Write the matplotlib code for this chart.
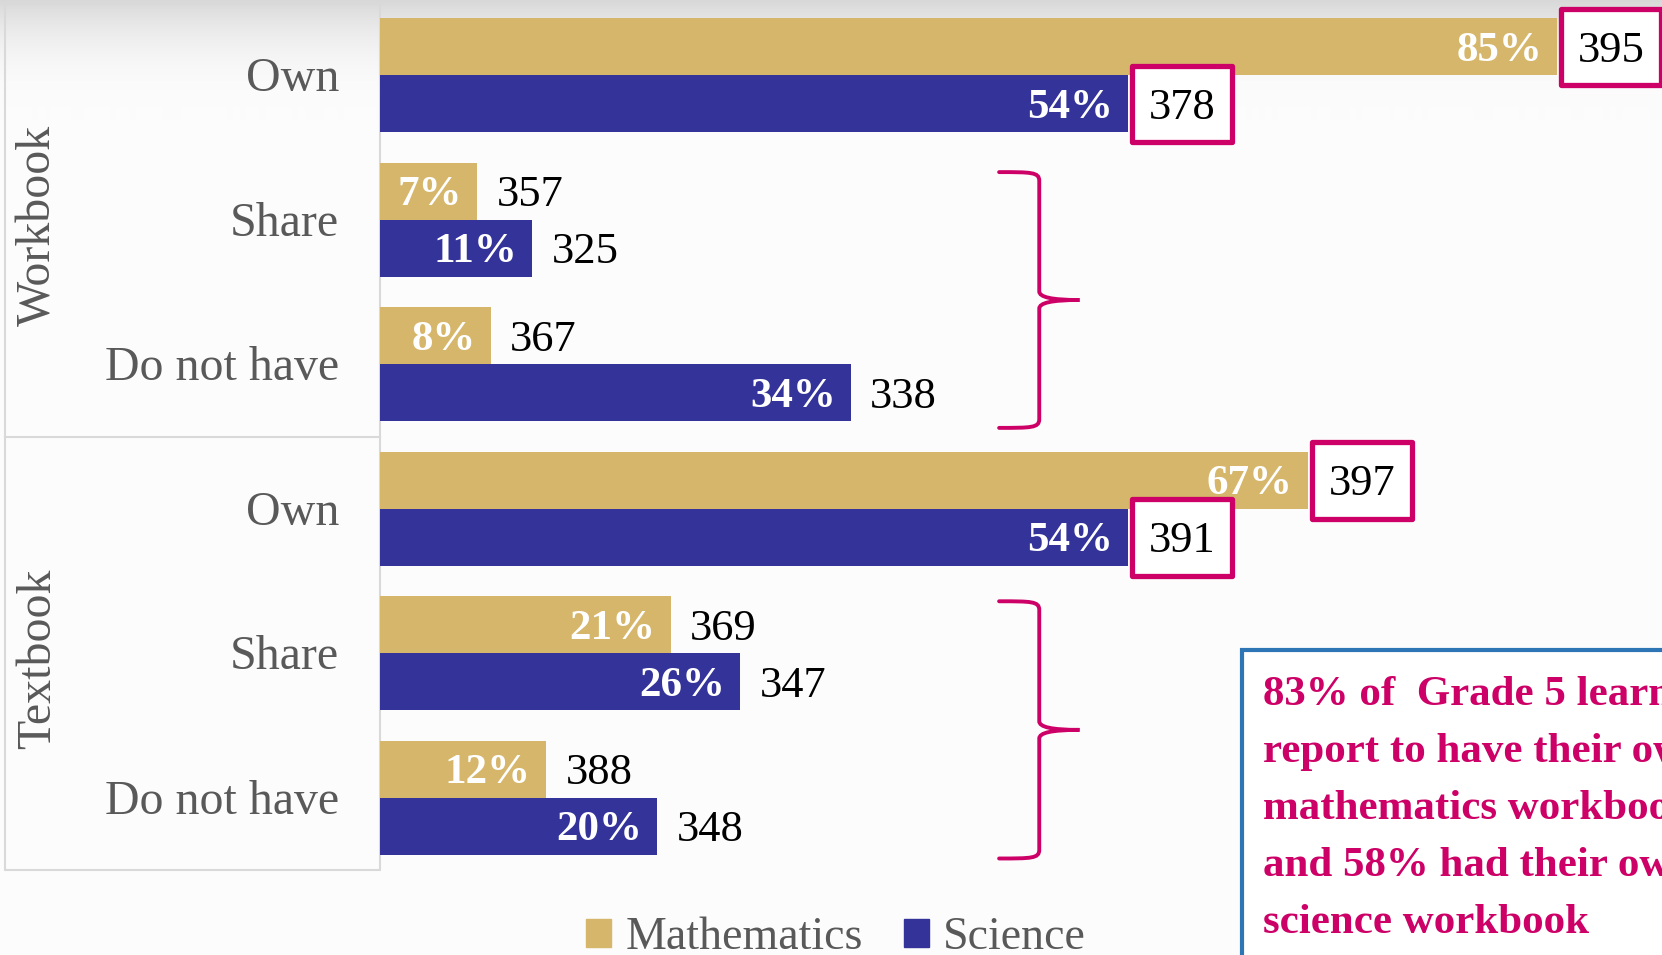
import numpy as np
import matplotlib.pyplot as plt
from matplotlib.colors import LinearSegmentedColormap
from matplotlib.patches import Rectangle, Patch, PathPatch
from matplotlib.path import Path

# data
groups = ['Workbook', 'Textbook']
categories = ['Own', 'Share', 'Do not have']
math_pct = [85, 7, 8, 67, 21, 12]
sci_pct = [54, 11, 34, 54, 26, 20]
math_score = [395, 357, 367, 397, 369, 388]
sci_score = [378, 325, 338, 391, 347, 348]
# which score labels get a pink box
math_boxed = [True, False, False, True, False, False]
sci_boxed = [True, False, False, True, False, False]
note_lines = ['83% of  Grade 5 learners', 'report to have their own',
              'mathematics workbook', 'and 58% had their own', 'science workbook']

GOLD = '#d6b66a'
NAVY = '#333399'
PINK = '#cc0066'
BLUE = '#2e75b6'
GREY = '#595959'

plt.rcParams['font.family'] = ['Liberation Serif', 'DejaVu Serif']

W, H = 1662, 955
PX = 13.85     # pixels per percent
ROW = 144.5    # pixels per category row
X0 = 380       # pixel of 0%
Y0 = 75.3      # pixel of first row centre
TXT_DY = 4 / ROW   # push labels down a little so digits sit on the bar centre

fig = plt.figure(figsize=(W / 100, H / 100), dpi=100, facecolor='#fcfcfc')
ax = fig.add_axes([0, 0, 1, 1])
ax.set_facecolor('#fcfcfc')

xlim = (-X0 / PX, (W - X0) / PX)
ylim = ((H - Y0) / ROW, -Y0 / ROW)

# soft grey fade at the top of the picture
t = np.linspace(0, 1, 120)
grad = ((1 - t) ** 2.5).reshape(-1, 1)
fade = LinearSegmentedColormap.from_list('fade', ['#fcfcfc', '#d8d8d8'])
ax.imshow(grad, extent=(xlim[0], xlim[1], ylim[1] + 120 / ROW, ylim[1]),
          cmap=fade, vmin=0, vmax=1, aspect='auto', origin='upper', zorder=0)

# left label panel
ax.add_patch(Rectangle((xlim[0] + 5 / PX, -0.5), -xlim[0] - 5 / PX, 6.0,
                       facecolor='none', edgecolor='#d9d9d9', lw=1.5, zorder=1))
ax.plot([xlim[0] + 5 / PX, 0], [2.5, 2.5], color='#d9d9d9', lw=1.5, zorder=1)

n = len(math_pct)
y = np.arange(n)
h = 57 / ROW
ax.barh(y - h / 2, math_pct, height=h, color=GOLD, zorder=2)
ax.barh(y + h / 2, sci_pct, height=h, color=NAVY, zorder=2)

for i in range(n):
    for pct, score, boxed, yy in [(math_pct[i], math_score[i], math_boxed[i], y[i] - h / 2),
                                  (sci_pct[i], sci_score[i], sci_boxed[i], y[i] + h / 2)]:
        ax.text(pct - 1.1, yy + TXT_DY, f'{pct}%', ha='right', va='center', color='white',
                fontsize=31, fontweight='bold', zorder=4)
        if boxed:
            bw, bh = 7.2, 0.53
            ax.add_patch(Rectangle((pct + 0.3, yy - bh / 2), bw, bh, facecolor='white',
                                   edgecolor=PINK, lw=3.8, joinstyle='round', zorder=3))
            ax.text(pct + 0.3 + bw / 2, yy + TXT_DY, str(score), ha='center', va='center',
                    color='black', fontsize=32, zorder=4)
        else:
            ax.text(pct + 1.4, yy + TXT_DY, str(score), ha='left', va='center',
                    color='black', fontsize=32, zorder=4)

# category and group labels
for i in range(n):
    ax.text(-41 / PX, y[i] + TXT_DY, categories[i % 3], ha='right', va='center',
            color=GREY, fontsize=34.5)
for g, name in enumerate(groups):
    ax.text(xlim[0] + 38 / PX, 3 * g + 1 + 6 / ROW, name, rotation=90, ha='center',
            va='center', color=GREY, fontsize=34.5)


# curly braces
def brace(x0, x1, ytop, ybot):
    xm = x0 + 0.5 * (x1 - x0)
    ym = (ytop + ybot) / 2
    d = 0.06
    verts = [(x0, ytop),
             (x0 + 0.8 * (xm - x0), ytop), (xm, ytop), (xm, ytop + d),
             (xm, ym - d),
             (xm, ym - 0.02), (xm + 0.3 * (x1 - xm), ym), (x1, ym),
             (xm + 0.3 * (x1 - xm), ym), (xm, ym + 0.02), (xm, ym + d),
             (xm, ybot - d),
             (xm, ybot), (x0 + 0.8 * (xm - x0), ybot), (x0, ybot)]
    codes = [Path.MOVETO, Path.CURVE4, Path.CURVE4, Path.CURVE4, Path.LINETO,
             Path.CURVE4, Path.CURVE4, Path.CURVE4, Path.CURVE4, Path.CURVE4, Path.CURVE4,
             Path.LINETO, Path.CURVE4, Path.CURVE4, Path.CURVE4]
    ax.add_patch(PathPatch(Path(verts, codes), facecolor='none', edgecolor=PINK,
                           lw=2.8, capstyle='round', zorder=3))


brace(44.7, 50.5, 1 - 0.33, 2 + 0.44)
brace(44.7, 50.5, 4 - 0.36, 5 + 0.42)

# note box (runs off the right and bottom edges, as in the original slide)
bx = (1242 - X0) / PX
by = (650 - Y0) / ROW
ax.add_patch(Rectangle((bx, by), 60, 5, facecolor='white', edgecolor=BLUE,
                       lw=3, zorder=3))
for k, line in enumerate(note_lines):
    ax.text((1263 - X0) / PX, (691 - Y0) / ROW + k * 57 / ROW + TXT_DY, line, ha='left',
            va='center', color=PINK, fontsize=31, fontweight='bold', zorder=4)

ax.set_xlim(*xlim)
ax.set_ylim(*ylim)
ax.axis('off')

handles = [Patch(color=GOLD, label='Mathematics'), Patch(color=NAVY, label='Science')]
leg = fig.legend(handles=handles, loc='center', bbox_to_anchor=(0.503, 0.018), ncol=2,
                 frameon=False, fontsize=33, handlelength=0.55, handleheight=0.55,
                 handletextpad=0.3, columnspacing=0.9, borderaxespad=0)
for t in leg.get_texts():
    t.set_color(GREY)

fig.savefig('out.png', dpi=100, facecolor=fig.get_facecolor())
